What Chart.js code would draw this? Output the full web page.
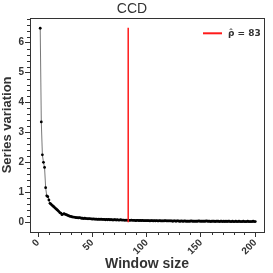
<!DOCTYPE html>
<html>
<head>
<meta charset="utf-8">
<script src="https://cdn.jsdelivr.net/npm/chart.js@4"></script>
<style>
  body { margin: 0; background: #fff; }
</style>
</head>
<body>
<canvas id="ccdChart" width="273" height="273"></canvas>
<script>
// window sizes start at 2 and go up by one
var firstWindow = 2;
var variation = [
  6.48, 3.35, 2.25, 2.0, 1.83, 1.15, 0.88, 0.85, 0.74,
  0.63, 0.6, 0.56, 0.53, 0.5, 0.46, 0.43, 0.4, 0.36, 0.32,
  0.3, 0.25, 0.27, 0.28, 0.26, 0.25, 0.23, 0.22, 0.2, 0.19,
  0.18, 0.17, 0.17, 0.16, 0.15, 0.15, 0.14, 0.15, 0.14, 0.13,
  0.13, 0.12, 0.13, 0.12, 0.12, 0.11, 0.12, 0.11, 0.11, 0.1,
  0.11, 0.1, 0.1, 0.1, 0.09, 0.1, 0.09, 0.1, 0.09, 0.09,
  0.09, 0.08, 0.09, 0.08, 0.09, 0.08, 0.08, 0.08, 0.07, 0.08,
  0.08, 0.07, 0.08, 0.07, 0.07, 0.08, 0.07, 0.07, 0.07, 0.06,
  0.07, 0.06, 0.07, 0.06, 0.06, 0.07, 0.06, 0.06, 0.06, 0.05,
  0.06, 0.06, 0.05, 0.06, 0.05, 0.06, 0.05, 0.05, 0.05, 0.05,
  0.05, 0.05, 0.04, 0.05, 0.05, 0.04, 0.05, 0.04, 0.05, 0.04,
  0.04, 0.05, 0.04, 0.04, 0.04, 0.04, 0.05, 0.04, 0.04, 0.04,
  0.04, 0.04, 0.04, 0.03, 0.04, 0.04, 0.03, 0.04, 0.04, 0.03,
  0.03, 0.04, 0.03, 0.03, 0.04, 0.03, 0.03, 0.03, 0.03, 0.03,
  0.04, 0.03, 0.03, 0.03, 0.03, 0.03, 0.03, 0.04, 0.03, 0.03,
  0.03, 0.03, 0.03, 0.03, 0.04, 0.03, 0.03, 0.03, 0.02, 0.03,
  0.03, 0.03, 0.02, 0.03, 0.03, 0.03, 0.02, 0.03, 0.03, 0.02,
  0.03, 0.02, 0.03, 0.02, 0.03, 0.03, 0.02, 0.02, 0.03, 0.02,
  0.02, 0.03, 0.02, 0.02, 0.03, 0.02, 0.02, 0.02, 0.03, 0.02,
  0.02, 0.02, 0.03, 0.02, 0.02, 0.02, 0.02, 0.03, 0.02, 0.02
];
var rhoHat = 83;
var rhoLineY = [0, 6.5];
var xTicks = [0, 50, 100, 150, 200];
var yTicks = [0, 1, 2, 3, 4, 5, 6];

var points = variation.map(function (v, i) {
  return { x: firstWindow + i, y: v };
});

var FONT = "'Liberation Sans', Arial, sans-serif";
var INK = "#333";
var RED = "#ff1a1a";

// box around the plot, the small in-between ticks and the legend inside the plot
var frame = {
  id: "frame",
  afterDraw: function (chart) {
    var c = chart.ctx, a = chart.chartArea;
    var xs = chart.scales.x, ys = chart.scales.y;
    c.save();
    c.strokeStyle = INK;
    c.lineWidth = 1;
    c.strokeRect(Math.round(a.left) + 0.5, Math.round(a.top) + 0.5,
      Math.round(a.right - a.left), Math.round(a.bottom - a.top));
    c.beginPath();
    for (var v = 0; v <= 200; v += 10) {
      if (v % 50 === 0) continue;
      var px = Math.round(xs.getPixelForValue(v)) + 0.5;
      c.moveTo(px, a.bottom);
      c.lineTo(px, a.bottom + 3);
    }
    for (var k = 0; k <= 34; k++) {
      if (k % 5 === 0) continue;
      var py = Math.round(ys.getPixelForValue(k * 0.2)) + 0.5;
      c.moveTo(a.left, py);
      c.lineTo(a.left - 3, py);
    }
    c.stroke();

    // legend
    var ly = a.top + 15.5;
    c.strokeStyle = RED;
    c.lineWidth = 2;
    c.beginPath();
    c.moveTo(a.right - 61, ly);
    c.lineTo(a.right - 42, ly);
    c.stroke();
    c.fillStyle = INK;
    c.font = "bold 9px 'DejaVu Sans', sans-serif";
    c.textBaseline = "middle";
    c.fillText(chart.data.datasets[1].label, a.right - 36, ly);
    c.restore();
  }
};

new Chart(document.getElementById("ccdChart").getContext("2d"), {
  type: "scatter",
  plugins: [frame],
  data: {
    datasets: [
      {
        label: "variation",
        data: points,
        showLine: true,
        borderColor: "#555",
        borderWidth: 0.8,
        pointRadius: 1.4,
        pointBackgroundColor: "#000",
        pointBorderWidth: 0,
        order: 2
      },
      {
        label: "\u03C1\u0302 = " + rhoHat,
        data: rhoLineY.map(function (y) { return { x: rhoHat, y: y }; }),
        showLine: true,
        borderColor: RED,
        borderWidth: 1.5,
        pointRadius: 0,
        order: 1
      }
    ]
  },
  options: {
    responsive: false,
    animation: false,
    layout: { padding: { left: 0, right: 9, top: 0, bottom: 0 } },
    plugins: {
      tooltip: { enabled: false },
      legend: { display: false },
      title: {
        display: true,
        text: "CCD",
        color: INK,
        font: { family: FONT, size: 14, weight: "normal" },
        padding: { top: 1, bottom: 0 }
      }
    },
    scales: {
      x: {
        type: "linear",
        min: -7.4,
        max: 208,
        afterFit: function (s) { s.height = 41; },
        afterBuildTicks: function (s) {
          s.ticks = xTicks.map(function (v) { return { value: v }; });
        },
        border: { display: false },
        grid: { drawOnChartArea: false, drawTicks: true, tickLength: 5, color: INK },
        ticks: {
          minRotation: 45,
          maxRotation: 45,
          padding: 0,
          color: INK,
          font: { family: FONT, size: 10, weight: "bold" }
        },
        title: {
          display: true,
          text: "Window size",
          color: INK,
          padding: { top: 0, bottom: 0 },
          font: { family: FONT, size: 14, weight: "bold" }
        }
      },
      y: {
        min: -0.33,
        max: 6.83,
        afterFit: function (s) { s.width = 30; },
        afterBuildTicks: function (s) {
          s.ticks = yTicks.map(function (v) { return { value: v }; });
        },
        border: { display: false },
        grid: { drawOnChartArea: false, drawTicks: true, tickLength: 5, color: INK },
        ticks: {
          padding: 1,
          color: INK,
          font: { family: FONT, size: 10, weight: "bold" }
        },
        title: {
          display: true,
          text: "Series variation",
          color: INK,
          padding: { top: 0, bottom: 0 },
          font: { family: FONT, size: 13, weight: "bold" }
        }
      }
    }
  }
});
</script>
</body>
</html>
